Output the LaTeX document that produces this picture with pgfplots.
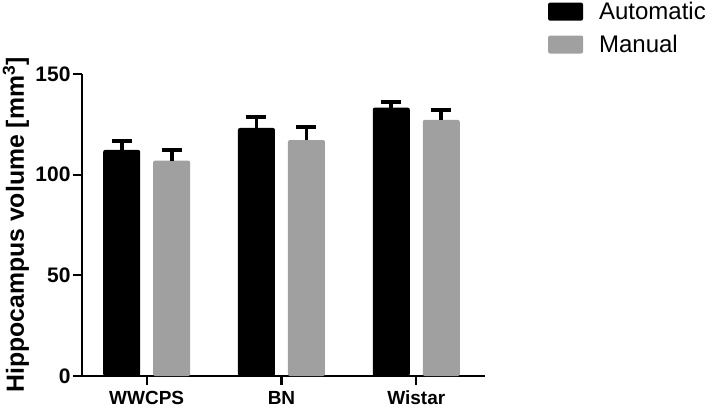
\documentclass[border=0pt]{standalone}
\usepackage{fontspec}
\setmainfont{Liberation Sans}
\usepackage{pgfplots}
\pgfplotsset{compat=1.18}
\definecolor{manualgray}{HTML}{A0A0A0}

\pgfplotstableread{
x  auto  autoerr  man    manerr
0  112.3 4.5      107.0  5.3
1  123.2 5.5      117.2  6.5
2  133.3 2.8      127.2  5.0
}\volumes

\begin{document}
\begin{tikzpicture}
\useasboundingbox (-82pt,-33pt) rectangle (626pt,376pt);
\begin{axis}[
    scale only axis,
    width=403pt, height=302pt,
    xmin=-0.48, xmax=2.51,
    ymin=0, ymax=150,
    axis x line=bottom, axis y line=left,
    axis line style={-, line width=2.2pt},
    tick align=outside,
    major tick length=9pt,
    every tick/.style={line width=2.2pt, black},
    xtick={0,1,2},
    xticklabels={WWCPS,BN,Wistar},
    ytick={0,50,100,150},
    minor tick num=0,
    /pgf/number format/assume math mode=true,
    xticklabel style={font=\bfseries\fontsize{19}{22}\selectfont, yshift=-2.5pt},
    yticklabel style={font=\bfseries\fontsize{21}{24}\selectfont, xshift=1pt},
    ylabel={Hippocampus volume [mm\textsuperscript{3}]},
    ylabel style={font=\bfseries\fontsize{24.8}{28}\selectfont,
        at={(axis description cs:-0.164,0.5)}, anchor=center},
    ybar=13pt, bar width=37pt,
    legend style={draw=none, fill=none,
        at={(axis description cs:1.156,1.245)}, anchor=north west,
        font=\fontsize{24}{28}\selectfont,
        row sep=10pt, inner sep=0pt,
        /tikz/every odd column/.append style={column sep=14pt}},
    legend cell align=left,
    legend image code/.code={\fill[#1, rounded corners=2pt] (0pt,-9pt) rectangle (35pt,9pt);},
    error bars/error bar style={line width=3.8pt, black},
    error bars/error mark options={rotate=90, mark size=10pt, line width=3.8pt, black},
    clip=false,
]
\addplot[fill=black, draw=none, rounded corners=2pt,
    error bars/.cd, y dir=plus, y explicit]
    table[x=x, y=auto, y error=autoerr] {\volumes};
\addlegendentry{Automatic}
\addplot[fill=manualgray, draw=none, rounded corners=2pt,
    error bars/.cd, y dir=plus, y explicit]
    table[x=x, y=man, y error=manerr] {\volumes};
\addlegendentry{Manual}
\end{axis}
\end{tikzpicture}
\end{document}
